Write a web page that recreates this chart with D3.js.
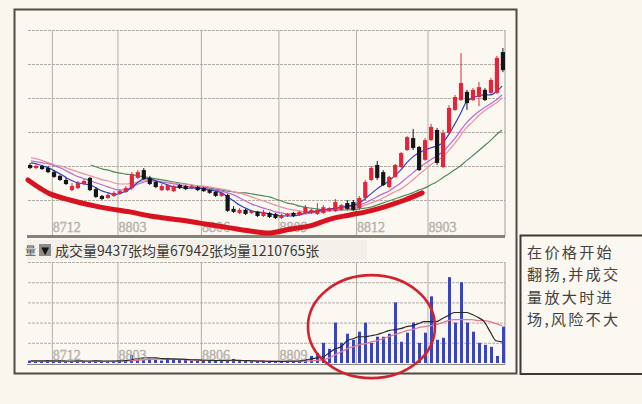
<!DOCTYPE html>
<html><head><meta charset="utf-8">
<script src="https://cdn.jsdelivr.net/npm/d3@7"></script>
<style>html,body{margin:0;padding:0;background:#faf6ee;} svg{display:block;}</style>
</head><body><svg id="c" width="642" height="404"></svg>
<script>
// ---------- DATA (weekly candles) ----------
const tickWeeks  = [4, 15, 29, 42, 55, 67];
const tickLabels = ["8712", "8803", "8806", "8809", "8812", "8903"];
const priceGrid  = [10, 20, 30, 40, 50, 60];
const volGrid    = [1, 2, 3, 4, 5];

const openP = [20.3,19.4,20.0,19.4,18.2,17.1,15.9,12.9,13.5,14.7,
16.5,13.2,11.2,10.6,11.2,11.8,12.4,13.5,16.5,18.8,
16.5,15.3,12.9,12.9,12.6,14.4,14.1,13.5,13.8,13.5,
12.9,12.4,11.2,11.5,7.4,6.2,7.1,6.2,6.5,5.3,
6.2,5.9,4.7,5.3,6.2,5.6,6.2,6.2,5.9,6.2,
6.8,6.8,7.1,9.1,9.4,7.6,10.6,15.9,20.3,18.2,
13.8,16.8,19.7,24.7,28.2,25.6,21.8,27.6,30.6,19.7,
29.7,36.5,39.4,41.8,39.4,40.3,42.4,41.5,41.5,53.5];
const closeP = [19.4,20.0,19.1,18.2,16.8,15.9,14.7,14.1,15.0,15.6,
12.9,10.9,10.3,11.5,12.1,12.6,13.5,17.6,18.2,16.2,
14.7,13.8,14.1,14.4,14.1,13.5,13.2,14.1,12.9,12.6,
12.1,11.2,12.1,6.8,6.5,7.1,5.9,6.8,5.3,6.5,
5.0,4.7,5.6,5.9,5.3,6.5,7.9,7.1,7.1,7.9,
7.6,9.4,8.5,7.4,7.1,10.6,15.3,19.4,16.5,14.4,
16.8,20.3,23.8,28.5,25.3,18.8,27.6,31.5,20.9,29.7,
37.1,40.3,44.4,38.5,42.4,43.2,39.4,45.3,51.8,48.2];
const highP = [20.9,20.6,20.3,20.0,18.8,17.4,16.5,15.0,15.6,16.2,
16.8,13.8,11.5,12.1,12.6,13.2,14.1,18.2,18.8,19.4,
17.1,15.6,14.7,14.7,14.4,14.7,14.4,14.4,14.1,13.8,
13.2,12.6,12.4,11.8,8.2,7.6,7.4,7.1,6.8,7.1,
6.5,6.2,5.9,6.2,6.5,6.8,8.5,7.4,9.1,8.5,
7.9,10.3,8.8,10.0,10.0,11.2,15.9,20.0,21.5,18.8,
17.1,20.6,24.1,28.8,30.9,25.9,28.2,32.4,31.2,30.6,
37.9,40.9,53.2,42.4,42.9,44.7,42.9,45.9,52.4,54.7];
const lowP = [19.1,19.1,18.8,17.9,16.5,15.6,14.4,12.6,13.2,14.4,
12.6,10.6,10.0,10.3,10.9,11.5,12.1,12.9,16.2,15.9,
14.4,13.5,12.6,12.6,12.4,13.2,12.9,13.2,12.6,12.4,
11.8,10.9,10.9,6.5,6.2,5.9,5.6,5.9,5.0,5.0,
4.7,4.4,4.4,5.0,5.0,5.3,5.9,5.9,5.6,5.9,
6.5,6.5,6.8,7.1,6.8,7.1,10.0,15.6,15.9,14.1,
13.5,16.5,19.4,24.4,24.7,18.5,21.5,27.4,20.3,19.4,
29.4,36.2,39.1,36.5,39.1,37.6,39.1,41.2,41.2,47.6];

const ma5 = [20.9,20.6,20.0,19.4,18.5,17.6,16.5,15.6,15.0,14.7,
14.4,13.5,12.6,12.1,11.5,12.1,12.6,13.8,15.3,16.2,
16.2,15.6,15.0,14.4,13.8,13.8,13.5,13.5,13.5,13.2,
12.9,12.6,12.1,10.9,9.7,8.5,7.6,6.8,6.5,6.2,
5.9,5.6,5.3,5.3,5.3,5.6,6.2,6.5,6.8,7.1,
7.4,7.6,7.9,8.2,8.5,9.1,10.3,11.8,13.2,14.4,
15.6,17.1,18.8,20.9,22.6,23.8,24.7,25.3,25.9,26.8,
29.1,32.1,35.3,38.8,40.0,40.6,40.9,40.9,41.8,43.5];
const ma10 = [21.5,21.2,20.9,20.6,20.0,19.4,18.5,17.6,16.8,16.2,
15.6,15.0,14.4,13.8,13.2,12.9,13.2,13.8,14.7,15.3,
15.6,15.6,15.3,15.0,14.7,14.4,14.1,13.8,13.8,13.5,
13.2,12.9,12.6,12.1,11.5,10.6,9.7,8.8,8.2,7.6,
7.1,6.5,6.2,5.9,5.9,5.9,5.9,6.2,6.5,6.8,
7.1,7.4,7.6,7.9,8.2,8.5,9.1,10.0,10.9,11.8,
12.6,13.8,15.0,16.5,17.9,19.4,20.6,21.8,22.9,24.1,
25.9,27.9,30.3,32.6,34.4,35.9,37.1,38.2,39.4,40.9];
const ma20 = [22.4,22.1,21.5,20.9,20.3,20.0,19.4,18.8,18.2,17.6,
17.1,16.5,15.9,15.6,15.0,14.7,14.7,15.0,15.3,15.6,
15.6,15.6,15.3,15.3,15.0,14.7,14.7,14.4,14.1,14.1,
13.8,13.5,13.2,12.9,12.4,12.1,11.5,10.9,10.3,9.7,
9.1,8.5,7.9,7.4,7.1,6.8,6.5,6.5,6.5,6.5,
6.8,6.8,7.1,7.4,7.6,7.9,8.5,9.1,9.7,10.6,
11.5,12.4,13.2,14.4,15.9,17.4,18.8,20.3,21.5,22.6,
24.4,26.5,28.8,31.2,32.9,34.7,36.2,37.4,38.5,40.0];
const ma60 = [null,null,null,null,null,null,null,null,null,null,
20.3,19.7,19.1,18.8,18.2,17.9,17.6,17.4,17.1,16.8,
16.5,16.2,15.9,15.6,15.3,15.0,14.7,14.4,14.1,13.8,
13.5,13.2,12.9,12.6,12.4,12.1,12.1,11.8,11.5,11.2,
10.9,10.3,9.7,9.1,8.8,8.2,7.9,7.6,7.4,7.1,
7.1,7.1,7.1,7.1,7.1,7.4,7.6,7.9,8.5,9.1,
9.7,10.3,10.9,11.5,12.1,12.9,13.5,14.4,15.3,16.5,
17.6,18.8,20.0,21.5,22.9,24.4,25.9,27.4,29.1,30.6];

const volume = [0.12,0.10,0.08,0.15,0.10,0.12,0.09,0.10,0.14,0.08,
0.10,0.12,0.09,0.10,0.11,0.12,0.15,0.40,0.20,0.18,
0.22,0.15,0.12,0.25,0.20,0.18,0.15,0.12,0.10,0.12,
0.15,0.10,0.12,0.14,0.20,0.12,0.10,0.08,0.10,0.06,
0.08,0.10,0.07,0.09,0.10,0.12,0.20,0.35,0.50,1.00,
0.70,2.00,1.00,1.45,1.15,1.55,2.00,1.00,1.30,1.30,
1.45,3.00,1.05,1.50,2.00,1.00,1.50,3.30,1.15,1.25,
4.25,2.00,4.00,2.00,1.55,1.00,0.90,0.80,0.35,1.80];
const volMaA = [0.11,0.11,0.11,0.11,0.11,0.11,0.10,0.10,0.11,0.10,
0.10,0.11,0.10,0.10,0.10,0.11,0.12,0.18,0.22,0.25,
0.26,0.25,0.22,0.20,0.20,0.19,0.18,0.16,0.15,0.14,
0.13,0.12,0.13,0.13,0.14,0.13,0.12,0.11,0.10,0.09,
0.08,0.08,0.08,0.09,0.09,0.10,0.15,0.20,0.25,0.30,
0.50,0.70,0.80,1.10,1.20,1.30,1.30,1.35,1.40,1.50,
1.60,1.65,1.70,1.80,1.85,1.95,2.05,2.05,2.05,2.20,
2.35,2.50,2.50,2.50,2.40,2.25,2.05,1.55,1.10,1.05];
const volMaB = [0.08,0.08,0.08,0.08,0.08,0.08,0.08,0.08,0.08,0.08,
0.08,0.08,0.08,0.08,0.08,0.09,0.10,0.12,0.14,0.16,
0.18,0.19,0.19,0.19,0.18,0.17,0.16,0.15,0.14,0.13,
0.12,0.12,0.12,0.12,0.12,0.12,0.12,0.11,0.11,0.10,
0.09,0.08,0.08,0.08,0.08,0.08,0.09,0.11,0.13,0.15,
0.25,0.40,0.55,0.70,0.80,0.90,0.95,1.05,1.10,1.20,
1.30,1.40,1.50,1.60,1.65,1.75,1.80,1.85,1.90,2.00,
2.10,2.15,2.15,2.15,2.15,2.10,2.10,2.05,1.95,1.85];

// hand-drawn annotations (in data coordinates: week index, price / volume)
const arcPoints = [[-0.5,15.9],[1.5,13.5],[3.2,11.8],[6.5,10.0],[11.6,7.9],[16.6,6.5],[20.0,5.3],[25.0,4.1],[28.3,3.2],[33.4,1.8],[36.7,0.9],[40.1,0.3],[43.4,1.4],[46.8,2.4],[50.2,4.4],[53.5,5.6],[56.9,6.8],[60.2,8.5],[62.7,10.0],[65.6,12.1]];
const circleCenter = [57.1, 1.8];
const circleRadius = [10.65, 2.55];

const volLabel = "成交量9437张均量67942张均量1210765张";
const noteLines = ["在价格开始", "翻扬,并成交", "量放大时进", "场,风险不大"];

// ---------- DRAW ----------
const svg = d3.select("#c");
svg.append("rect").attr("width",642).attr("height",404).attr("fill","#faf6ee");
svg.append("rect").attr("x",14.5).attr("y",9.5).attr("width",502).attr("height",364)
  .attr("fill","#fbf8f2").attr("stroke","#4f4c48").attr("stroke-width",2);

const N = openP.length;
const X0 = 28, X1 = 505;
const xBand = d3.scaleBand().domain(d3.range(N)).range([X0,X1]).paddingInner(0.3);
const xVol  = d3.scaleBand().domain(d3.range(N)).range([X0,X1]).paddingInner(0.5);
const xLin  = d3.scaleLinear().domain([-0.5, N-0.5]).range([X0,X1]);
const xEdge = d3.scaleLinear().domain([0, N]).range([X0,X1]);
const yP = d3.scaleLinear().domain([0,60]).range([234,30]);
const yV = d3.scaleLinear().domain([0,5]).range([363,262]);

const gridCol = "#b2aea6";
function styleGrid(g, dash){
  g.select(".domain").remove();
  g.selectAll("line").attr("stroke",gridCol).attr("stroke-width",1).attr("stroke-dasharray",dash);
}
// price grid
svg.append("g").attr("transform",`translate(${X0},0)`)
  .call(d3.axisLeft(yP).tickValues(priceGrid).tickSize(-(X1-X0)).tickFormat(""))
  .call(g=>styleGrid(g,"3,1"));
svg.append("g").attr("transform","translate(0,236)")
  .call(d3.axisBottom(xEdge).tickValues(tickWeeks).tickSize(-(236-30)).tickFormat(""))
  .call(g=>styleGrid(g,null));
svg.append("line").attr("x1",X1).attr("x2",X1).attr("y1",30).attr("y2",236).attr("stroke","#a19d96");
// volume grid
svg.append("g").attr("transform",`translate(${X0},0)`)
  .call(d3.axisLeft(yV).tickValues(volGrid).tickSize(-(X1-X0)).tickFormat(""))
  .call(g=>styleGrid(g,"3,1"));
svg.append("g").attr("transform","translate(0,364)")
  .call(d3.axisBottom(xEdge).tickValues(tickWeeks).tickSize(-(364-262)).tickFormat(""))
  .call(g=>styleGrid(g,null));
svg.append("line").attr("x1",X1).attr("x2",X1).attr("y1",262).attr("y2",364).attr("stroke","#a19d96");
svg.append("line").attr("x1",X0-1).attr("x2",X1).attr("y1",364.5).attr("y2",364.5).attr("stroke","#8e8a84");

// moving averages (price)
const lineP = d3.line().defined(d=>d!=null).x((d,i)=>xLin(i)).y(d=>yP(d)).curve(d3.curveMonotoneX);
[[ma60,"#4f8a57"],[ma20,"#ec8fa4"],[ma10,"#b86ad2"],[ma5,"#2f3fc4"]].forEach(([s,c])=>{
  svg.append("path").datum(s).attr("d",lineP).attr("fill","none").attr("stroke",c).attr("stroke-width",1.2);
});

// candles
const up = i => closeP[i] >= openP[i];
const cRed = "#e3243b", cBlk = "#161616";
const cg = svg.append("g");
cg.selectAll("line").data(d3.range(N)).join("line")
  .attr("x1",i=>xBand(i)+xBand.bandwidth()/2).attr("x2",i=>xBand(i)+xBand.bandwidth()/2)
  .attr("y1",i=>yP(highP[i])).attr("y2",i=>yP(lowP[i]))
  .attr("stroke",i=>up(i)?cRed:cBlk).attr("stroke-width",1);
cg.selectAll("rect").data(d3.range(N)).join("rect")
  .attr("x",i=>xBand(i)).attr("width",xBand.bandwidth())
  .attr("y",i=>yP(Math.max(openP[i],closeP[i])))
  .attr("height",i=>Math.max(1.2,Math.abs(yP(openP[i])-yP(closeP[i]))))
  .attr("fill",i=>up(i)?cRed:cBlk);

// bottom bar of price panel
svg.append("rect").attr("x",X0-1).attr("y",235).attr("width",X1-X0+1).attr("height",3).attr("fill","#85827c");

// tick labels
const labStyle = s => s.attr("font-family","'Liberation Serif',serif").attr("font-size",14)
  .attr("fill","#c6c2ba").attr("stroke","#a29e96").attr("stroke-width",0.35);
svg.append("g").selectAll("text").data(tickWeeks).join("text")
  .attr("x",w=>xEdge(w)+1).attr("y",232).text((w,i)=>tickLabels[i]).call(labStyle);

// annotation arc
svg.append("path").datum(arcPoints)
  .attr("d",d3.line().x(d=>xLin(d[0])).y(d=>yP(d[1])).curve(d3.curveCatmullRom))
  .attr("fill","none").attr("stroke","#d8131f").attr("stroke-width",5).attr("stroke-linecap","round");

// label row
svg.append("rect").attr("x",X0-1).attr("y",240).attr("width",340).attr("height",20).attr("fill","#f3f0ea");
svg.append("text").attr("x",25).attr("y",255).attr("font-size",11).attr("fill","#555")
  .attr("font-family","'Noto Sans CJK SC'").text("量");
svg.append("rect").attr("x",39).attr("y",244).attr("width",12).attr("height",12).attr("fill","#8d8b87");
svg.append("text").attr("x",45).attr("y",254).attr("text-anchor","middle").attr("font-size",10)
  .attr("fill","#111").attr("font-family","'DejaVu Sans'").text("▼");
svg.append("text").attr("x",55).attr("y",256).attr("font-size",14).attr("fill","#3a3836")
  .attr("font-family","'Noto Sans CJK SC'").text(volLabel);

// volume bars
svg.append("g").selectAll("rect").data(d3.range(N)).join("rect")
  .attr("x",i=>xVol(i)).attr("width",xVol.bandwidth())
  .attr("y",i=>yV(volume[i])).attr("height",i=>Math.max(1,yV(0)-yV(volume[i])))
  .attr("fill","#3a45bb");
const lineV = d3.line().x((d,i)=>xLin(i)).y(d=>yV(d)).curve(d3.curveMonotoneX);
svg.append("path").datum(volMaB).attr("d",lineV).attr("fill","none").attr("stroke","#e27a92").attr("stroke-width",1.3);
svg.append("path").datum(volMaA).attr("d",lineV).attr("fill","none").attr("stroke","#2a2a2a").attr("stroke-width",1.2);
svg.append("g").selectAll("text").data(tickWeeks.slice(0,4)).join("text")
  .attr("x",w=>xEdge(w)+1).attr("y",360).text((w,i)=>tickLabels[i]).call(labStyle);

// red ellipse
const cx = xLin(circleCenter[0]), cy = yV(circleCenter[1]);
svg.append("ellipse").attr("cx",cx).attr("cy",cy)
  .attr("rx",xLin(circleCenter[0]+circleRadius[0])-cx).attr("ry",yV(0)-yV(circleRadius[1]))
  .attr("fill","none").attr("stroke","#d2222e").attr("stroke-width",2.6);

// note box
svg.append("rect").attr("x",520.5).attr("y",235.5).attr("width",140).attr("height",138.5)
  .attr("fill","#fbf8f2").attr("stroke","#3c3a37").attr("stroke-width",2);
svg.append("g").selectAll("text").data(noteLines).join("text")
  .attr("x",527).attr("y",(d,i)=>258+i*22.3).attr("font-size",15.2).attr("letter-spacing",2.2)
  .attr("font-family","'Noto Sans CJK SC'").attr("fill","#444240").text(d=>d);
</script></body></html>
